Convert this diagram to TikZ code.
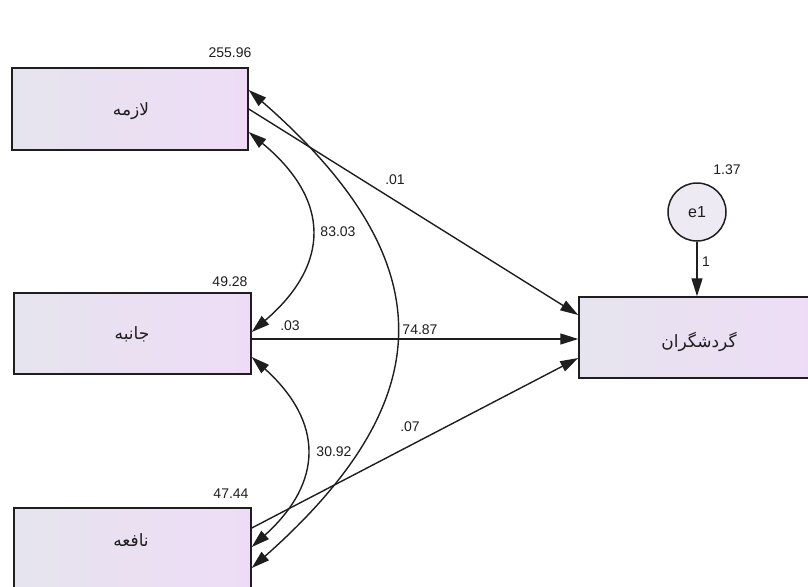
\documentclass[tikz,border=0pt]{standalone}
\usepackage{fontspec}
\setmainfont{Liberation Sans}
\newfontfamily\arabicfont[Script=Arabic]{DejaVu Sans}
\TeXXeTstate=1
\usetikzlibrary{arrows.meta}
\definecolor{boxl}{RGB}{230,228,238}
\definecolor{boxr}{RGB}{238,220,246}
\definecolor{circfill}{RGB}{238,234,244}
\definecolor{ink}{RGB}{30,30,30}
\begin{document}
\begin{tikzpicture}[x=1pt,y=-1pt,
  varbox/.style={draw=ink, line width=1.5pt, rectangle, left color=boxl, right color=boxr, inner sep=0pt},
  conn/.style={draw=ink, line width=1.4pt, -{Triangle[length=18pt,width=11pt]}},
  cov/.style={draw=ink, line width=1.4pt, {Triangle[length=18pt,width=11pt]}-{Triangle[length=18pt,width=11pt]}},
  num/.style={font=\fontsize{14}{16}\selectfont, text=ink, inner sep=0pt},
  ar/.style={font=\arabicfont\fontsize{17}{20}\selectfont, text=ink, inner sep=0pt}]
\useasboundingbox[fill=white] (0,0) rectangle (808,586);
% observed variables
\node[varbox, minimum width=236, minimum height=82] (b1) at (130,109) {};
\node[ar] (t1) at (131,111) {\beginR لازمه\endR};
\node[varbox, minimum width=237, minimum height=81] (b2) at (132.5,333.5) {};
\node[ar] (t2) at (132,334) {\beginR جانبه\endR};
\node[varbox, minimum width=237, minimum height=82] (b3) at (132.5,549) {};
\node[ar] (t3) at (131,540) {\beginR نافعه\endR};
\node[varbox, minimum width=240, minimum height=81] (y) at (699,337.5) {};
\node[ar] (ty) at (699,342) {\beginR گردشگران\endR};
\node[circle, draw=ink, line width=1.5pt, fill=circfill, minimum size=58, inner sep=0pt, font=\fontsize{16}{18}\selectfont, text=ink] (e1) at (697,212) {e1};
% variances
\node[num] (v1) at (230,53) {255.96};
\node[num] (v2) at (230,282) {49.28};
\node[num] (v3) at (231,494) {47.44};
\node[num] (ve) at (727,170) {1.37};
% regression paths
\draw[conn] (b1.east) -- ([yshift=22.5]y.west);
\draw[conn] ([yshift=-5.5]b2.east) -- ([yshift=-1.5]y.west);
\draw[conn] ([yshift=21]b3.east) -- ([yshift=-20.5]y.west);
\draw[conn] (e1.south) -- (e1.south |- y.north);
\node[num] (p1) at (395,180) {.01};
\node[num] (p2) at (290,326) {.03};
\node[num] (p3) at (410,427) {.07};
\node[num] (pe) at (706,262) {1};
% covariances
\draw[cov] ([yshift=-23]b1.east) .. controls +(82,68) and +(79,-68) .. ([yshift=1.5]b2.east);
\draw[cov] ([yshift=-23.5]b2.east) .. controls +(72,65) and +(72,-65) .. ([yshift=2]b3.east);
\draw[cov] ([yshift=19]b1.east) .. controls +(195,170) and +(192,-170) .. ([yshift=-19]b3.east);
\node[num] (c12) at (338,232) {83.03};
\node[num] (c23) at (334,452) {30.92};
\node[num] (c13) at (420,330) {74.87};
\end{tikzpicture}
\end{document}
